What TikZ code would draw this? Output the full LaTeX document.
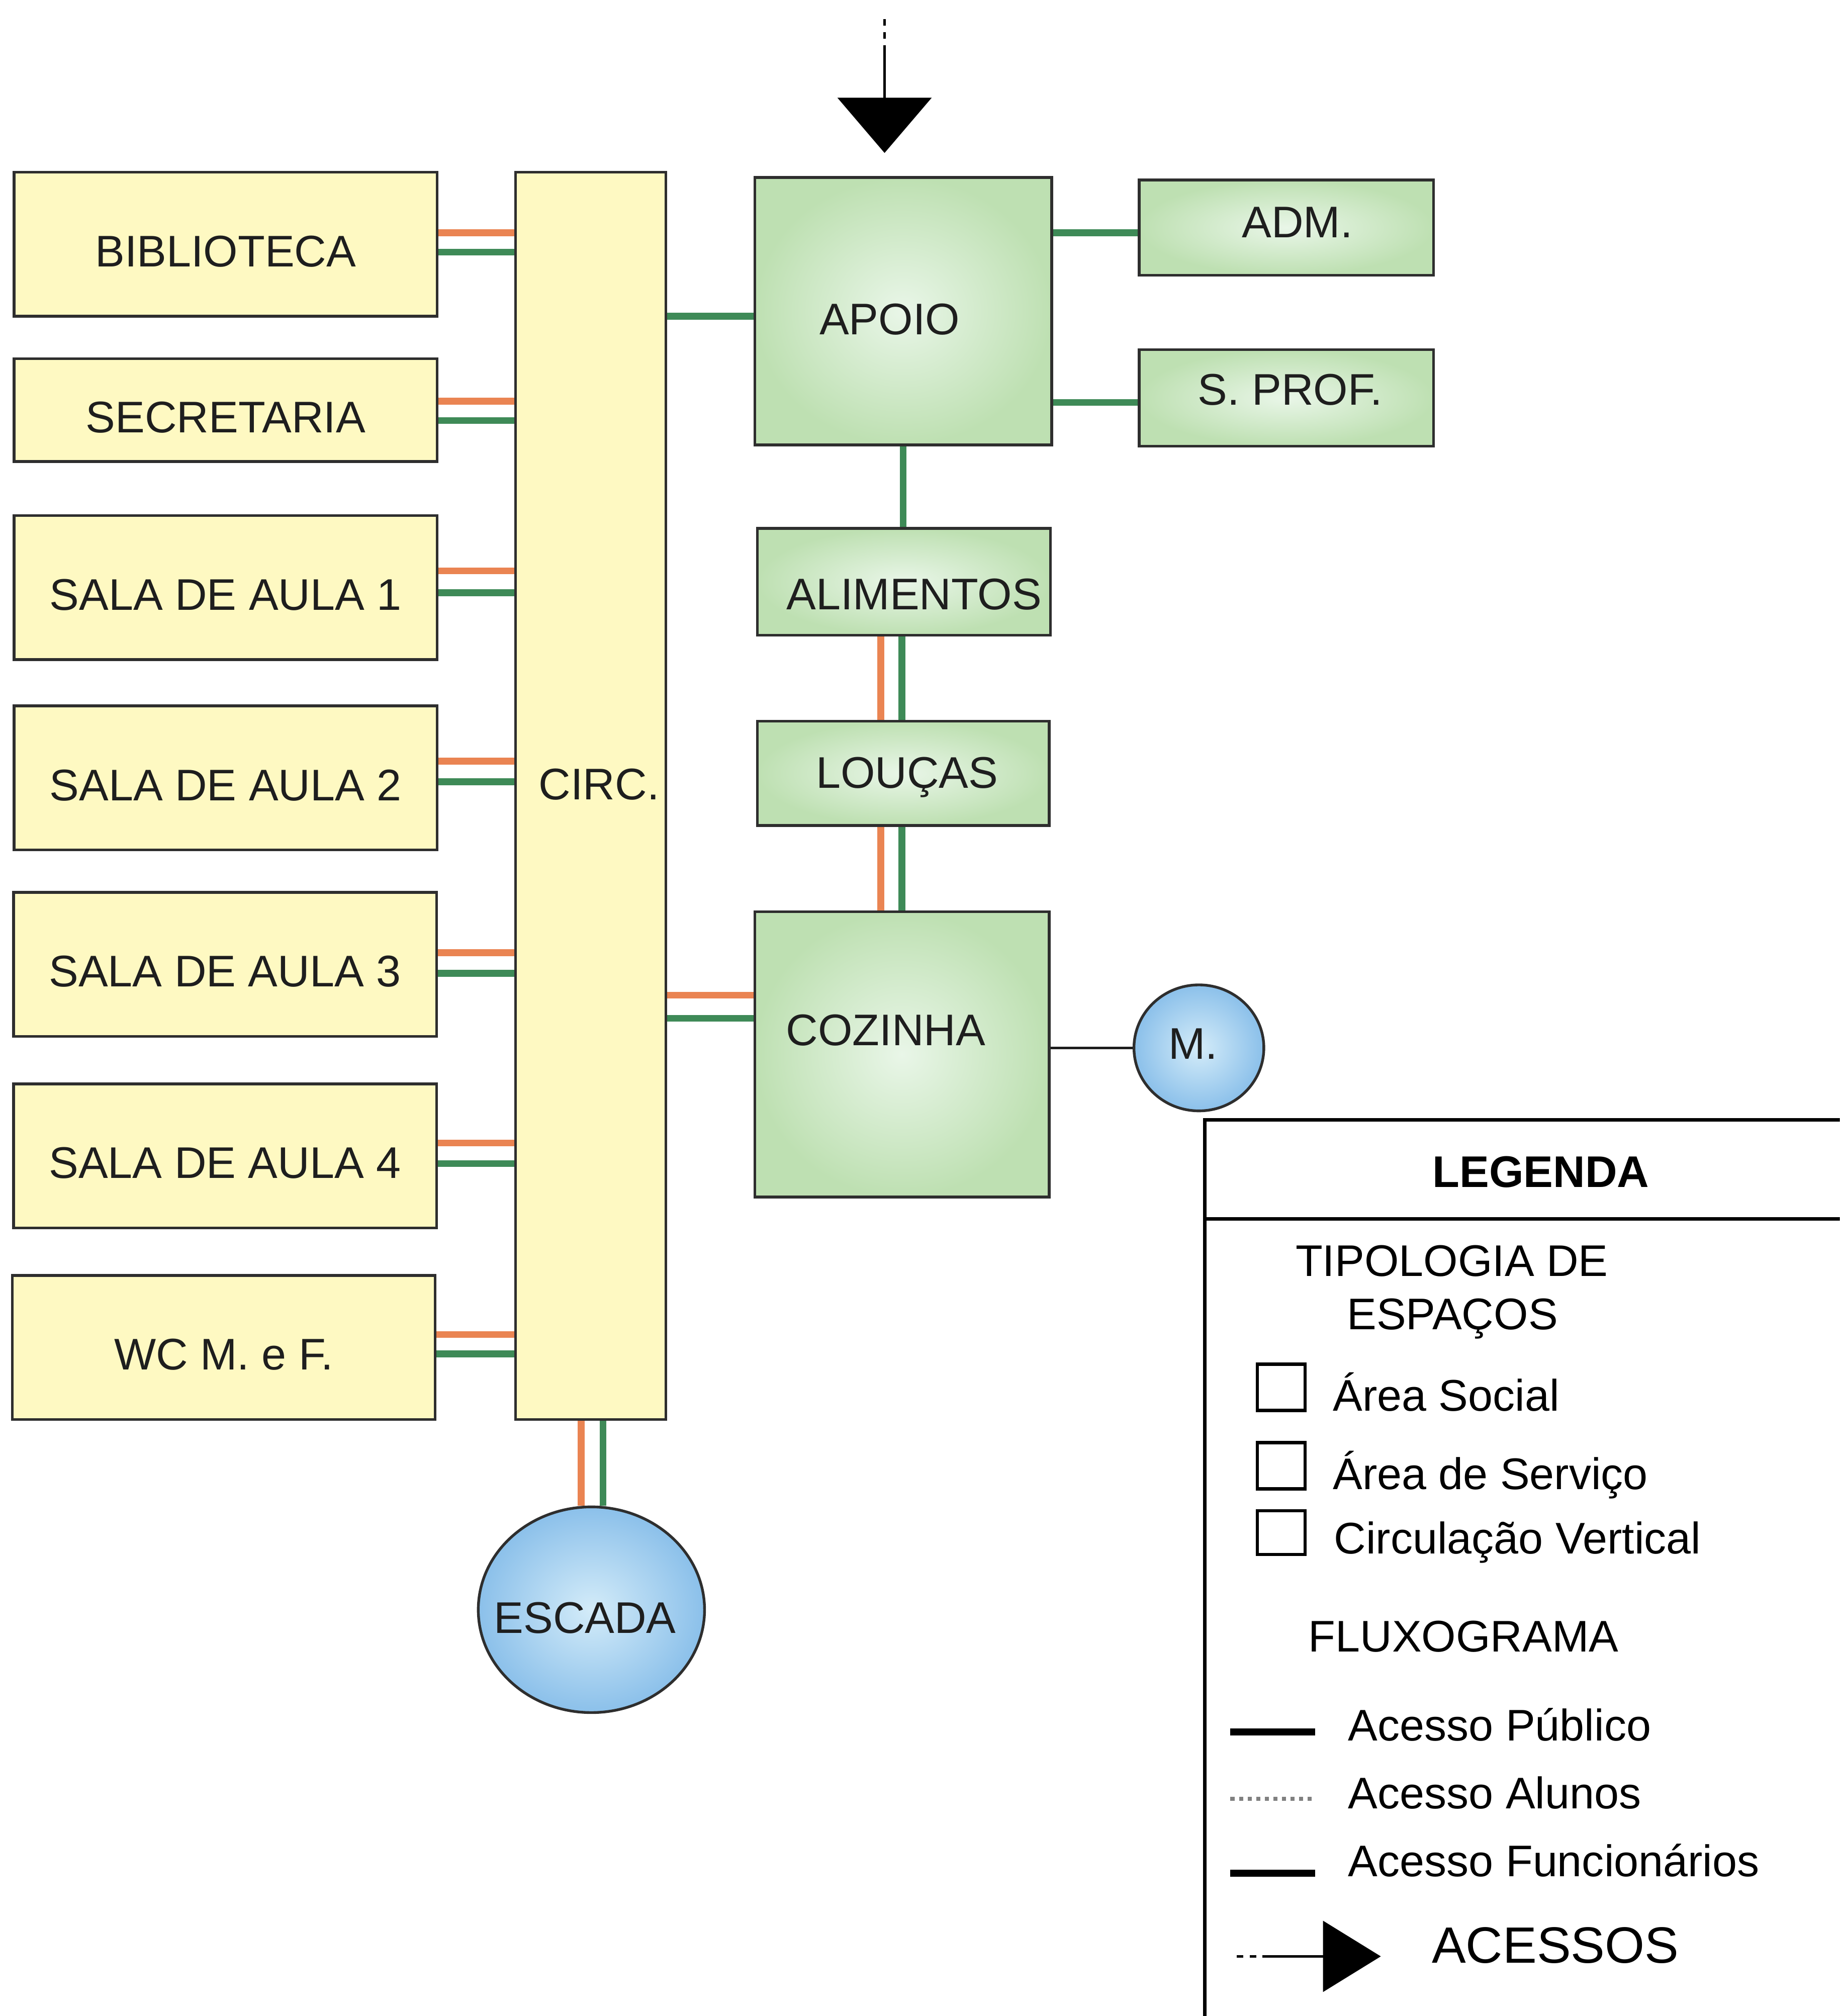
\documentclass[tikz,border=0pt]{standalone}
\usepackage{fontspec}
\setmainfont{Liberation Sans}
\usetikzlibrary{arrows.meta,positioning,calc,shapes.geometric}
\definecolor{ink}{HTML}{1E1E1E}
\definecolor{edge}{HTML}{2E2E2E}
\definecolor{social}{HTML}{FEF9C2}
\definecolor{servlight}{HTML}{E9F6E8}
\definecolor{serv}{HTML}{BEE0B2}
\definecolor{vertlight}{HTML}{D4ECF9}
\definecolor{vert}{HTML}{8BC0EA}
\definecolor{laranja}{HTML}{EA8452}
\definecolor{verdefunc}{HTML}{3E8A57}
\tikzset{
  sala/.style={draw=edge,line width=0.6pt,fill=social,inner sep=0pt,minimum width=32.9mm,minimum height=11.2mm,text height=3.5mm,text depth=0mm,font=\fontsize{9.8}{11.8}\selectfont,text=ink},
  servico/.style={draw=edge,line width=0.6pt,inner color=servlight,outer color=serv,inner sep=0pt},
  vertical/.style={draw=edge,line width=0.6pt,ellipse,inner color=vertlight,outer color=vert,inner sep=0pt},
  rot/.style={inner sep=0pt,text depth=0pt,font=\fontsize{9.8}{11.8}\selectfont,text=ink},
  aluno/.style={draw=laranja,line width=1.5pt},
  func/.style={draw=verdefunc,line width=1.5pt},
  publico/.style={draw=ink,line width=0.5pt},
  acesso/.style={-{Triangle[length=4.3mm,width=7.3mm]},line width=0.6pt,draw=black,dash pattern=on 0.5mm off 0.5mm on 0.5mm off 0.5mm on 9mm off 1mm},
  legtext/.style={anchor=west,inner sep=0pt,text height=2.5mm,text depth=0pt,font=\fontsize{9.8}{11.8}\selectfont,text=black},
  legbox/.style={draw=black,line width=0.7pt,fill=white,inner sep=0pt,minimum width=3.7mm,minimum height=3.6mm},
  legline/.style={draw=black,line width=1.6pt}
}
\begin{document}
\begin{tikzpicture}[x=0.1mm,y=-0.1mm]
    \useasboundingbox (0,0) rectangle (1431,1568);
    \clip (0,0) rectangle (1431,1568);

    \node[sala] (bib) at (175.5,190) {BIBLIOTECA};
    \node[sala,minimum height=8mm] (sec) at (175.5,319) {SECRETARIA};
    \node[sala] (aula1) at (175.5,457) {SALA DE AULA 1};
    \node[sala] (aula2) at (175.5,605) {SALA DE AULA 2};
    \node[sala] (aula3) at (175,750) {SALA DE AULA 3};
    \node[sala] (aula4) at (175,899) {SALA DE AULA 4};
    \node[sala] (wc) at (174,1048) {WC M. e F.};
    \node[sala,minimum width=11.7mm,minimum height=97mm,label={[rot,shift={(6.5,-9)}]center:CIRC.}] (circ) at (459.5,619) {};

    \node[servico,minimum width=23.1mm,minimum height=20.8mm,label={[rot,shift={(-10.5,6)}]center:APOIO}] (apoio) at (702.5,242) {};
    \node[servico,minimum width=22.9mm,minimum height=7.4mm,label={[rot,shift={(8.5,-4)}]center:ADM.}] (adm) at (1000.5,177) {};
    \node[servico,minimum width=22.9mm,minimum height=7.5mm,label={[rot,shift={(3,-6.5)}]center:S. PROF.}] (sprof) at (1000.5,309.5) {};
    \node[servico,minimum width=22.8mm,minimum height=8.3mm,label={[rot,shift={(8,9.5)}]center:ALIMENTOS}] (alim) at (703,452.5) {};
    \node[servico,minimum width=22.7mm,minimum height=8.1mm,label={[rot,shift={(3,-0.5)}]center:LOUÇAS}] (loucas) at (702.5,601.5) {};
    \node[servico,minimum width=22.9mm,minimum height=22.2mm,label={[rot,shift={(-12.5,-19)}]center:COZINHA}] (cozinha) at (701.5,820) {};
    \node[vertical,minimum width=10.1mm,minimum height=9.8mm,label={[rot,shift={(-4.5,-3)}]center:M.}] (m) at (932.5,815) {};
    \node[vertical,minimum width=17.6mm,minimum height=16mm,label={[rot,shift={(-5,6)}]center:ESCADA}] (escada) at (460,1252) {};

    \draw[aluno] ([yshift=0.9mm]bib.east) -- ([yshift=0.9mm]circ.west |- bib.east);
    \draw[func] ([yshift=-0.6mm]bib.east) -- ([yshift=-0.6mm]circ.west |- bib.east);
    \draw[aluno] ([yshift=0.7mm]sec.east) -- ([yshift=0.7mm]circ.west |- sec.east);
    \draw[func] ([yshift=-0.8mm]sec.east) -- ([yshift=-0.8mm]circ.west |- sec.east);
    \draw[aluno] ([yshift=1.3mm]aula1.east) -- ([yshift=1.3mm]circ.west |- aula1.east);
    \draw[func] ([yshift=-0.4mm]aula1.east) -- ([yshift=-0.4mm]circ.west |- aula1.east);
    \draw[aluno] ([yshift=1.3mm]aula2.east) -- ([yshift=1.3mm]circ.west |- aula2.east);
    \draw[func] ([yshift=-0.3mm]aula2.east) -- ([yshift=-0.3mm]circ.west |- aula2.east);
    \draw[aluno] ([yshift=0.9mm]aula3.east) -- ([yshift=0.9mm]circ.west |- aula3.east);
    \draw[func] ([yshift=-0.7mm]aula3.east) -- ([yshift=-0.7mm]circ.west |- aula3.east);
    \draw[aluno] ([yshift=1.0mm]aula4.east) -- ([yshift=1.0mm]circ.west |- aula4.east);
    \draw[func] ([yshift=-0.6mm]aula4.east) -- ([yshift=-0.6mm]circ.west |- aula4.east);
    \draw[aluno] ([yshift=1.0mm]wc.east) -- ([yshift=1.0mm]circ.west |- wc.east);
    \draw[func] ([yshift=-0.5mm]wc.east) -- ([yshift=-0.5mm]circ.west |- wc.east);

    \draw[func] ([yshift=-0.4mm]circ.east |- apoio.west) -- ([yshift=-0.4mm]apoio.west);
    \draw[func] ([yshift=-0.4mm]apoio.east |- adm.west) -- ([yshift=-0.4mm]adm.west);
    \draw[func] ([yshift=-0.35mm]apoio.east |- sprof.west) -- ([yshift=-0.35mm]sprof.west);
    \draw[func] (apoio.south) -- (apoio.south |- alim.north);
    \draw[aluno] ([xshift=-1.8mm]alim.south) -- ([xshift=-1.8mm]alim.south |- loucas.north);
    \draw[func] ([xshift=-0.15mm]alim.south) -- ([xshift=-0.15mm]alim.south |- loucas.north);
    \draw[aluno] ([xshift=-1.75mm]loucas.south) -- ([xshift=-1.75mm]loucas.south |- cozinha.north);
    \draw[func] ([xshift=-0.1mm]loucas.south) -- ([xshift=-0.1mm]loucas.south |- cozinha.north);
    \draw[aluno] ([yshift=4.6mm]circ.east |- cozinha.west) -- ([yshift=4.6mm]cozinha.west);
    \draw[func] ([yshift=2.8mm]circ.east |- cozinha.west) -- ([yshift=2.8mm]cozinha.west);
    \draw[publico] (cozinha.east |- m.west) -- (m.west);
    \draw[aluno] ([xshift=-0.75mm]circ.south) -- ([xshift=-0.75mm]circ.south |- escada.north);
    \draw[func] ([xshift=0.95mm]circ.south) -- ([xshift=0.95mm]circ.south |- escada.north);

    \coordinate (entrada) at (688,15);
    \draw[acesso,shorten >=1.8mm] (entrada) -- (entrada |- apoio.north);

    \draw[line width=0.8pt] (937,871) rectangle (1480,1620);
    \draw[line width=0.8pt] (937,948) -- (1480,948);
    \node[legtext,anchor=center,font=\fontsize{9.8}{11.8}\selectfont\bfseries] (legenda) at (1198.5,911) {LEGENDA};
    \node[legtext] (tipologia) at (1007,980) {TIPOLOGIA DE};
    \node[legtext] (espacos) at (1047,1021.5) {ESPAÇOS};
    \node[legbox] (qsocial) at (996.5,1079) {};
    \node[legtext] (tsocial) at (1036,1085) {Área Social};
    \node[legbox] (qservico) at (996.5,1140) {};
    \node[legtext] (tservico) at (1036,1146) {Área de Serviço};
    \node[legbox,minimum height=3.4mm] (qvertical) at (996.5,1192) {};
    \node[legtext] (tvertical) at (1037,1196) {Circulação Vertical};
    \node[legtext] (fluxo) at (1017,1272) {FLUXOGRAMA};
    \draw[legline] (957,1347) -- (1023,1347);
    \node[legtext] (tpublico) at (1048,1341.5) {Acesso Público};
    \draw[draw=gray,line width=0.9pt,densely dotted] (957,1399) -- (1023,1399);
    \node[legtext] (talunos) at (1048,1394) {Acesso Alunos};
    \draw[legline] (957,1457) -- (1023,1457);
    \node[legtext] (tfunc) at (1048,1447) {Acesso Funcionários};
    \coordinate (acessoleg) at (962,1521.6);
    \draw[acesso,-{Triangle[length=4.5mm,width=5.5mm]}] (acessoleg) -- ++(11.2mm,0);
    \node[legtext,text height=2.85mm,font=\fontsize{11.3}{13.5}\selectfont] (tacessos) at (1113,1512.6) {ACESSOS};
\end{tikzpicture}
\end{document}
